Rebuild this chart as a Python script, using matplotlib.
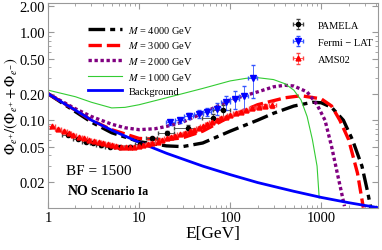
import numpy as np
import matplotlib
matplotlib.use("Agg")
import matplotlib.pyplot as plt
from matplotlib.ticker import FixedLocator, NullFormatter, LogLocator

plt.rcParams['font.family'] = ['Liberation Serif', 'DejaVu Serif']
plt.rcParams['mathtext.fontset'] = 'stix'

# model curves (E in GeV, positron fraction)
e_bg = [1, 1.5, 2, 3, 5, 7, 10, 20, 50, 100, 200, 500, 1000, 2000, 3000, 4200]
f_bg = [0.2, 0.155, 0.13, 0.1, 0.077, 0.066, 0.056, 0.042, 0.03, 0.024,
        0.0195, 0.0155, 0.0132, 0.0115, 0.0107, 0.0101]

e_4000 = [1, 2, 3, 5, 10, 20, 30, 50, 100, 200, 300, 500, 800, 1000, 1300,
          1750, 2200, 2800, 3200, 3500]
f_4000 = [0.2, 0.125, 0.095, 0.072, 0.057, 0.051, 0.05, 0.055, 0.075, 0.1,
          0.12, 0.145, 0.16, 0.158, 0.14, 0.1, 0.06, 0.03, 0.016, 0.0101]

e_3000 = [1, 2, 3, 5, 10, 20, 30, 50, 100, 200, 400, 600, 1000, 1300, 1600,
          2000, 2500, 2900]
f_3000 = [0.2, 0.13, 0.1, 0.078, 0.062, 0.06, 0.063, 0.075, 0.11, 0.15, 0.18,
          0.19, 0.175, 0.145, 0.1, 0.06, 0.025, 0.0101]

e_2000 = [1, 2, 3, 5, 7, 10, 15, 20, 30, 50, 100, 200, 300, 400, 500, 700,
          900, 1100, 1300, 1500, 1800]
f_2000 = [0.2, 0.135, 0.11, 0.09, 0.082, 0.078, 0.08, 0.085, 0.095, 0.12, 0.17,
          0.21, 0.24, 0.25, 0.245, 0.21, 0.15, 0.1, 0.05, 0.025, 0.0105]

e_1000 = [1, 2, 3, 5, 7, 10, 20, 50, 100, 150, 200, 300, 400, 500, 600, 700,
          800, 900, 950]
f_1000 = [0.22, 0.185, 0.16, 0.138, 0.14, 0.15, 0.18, 0.23, 0.28, 0.3, 0.305,
          0.29, 0.26, 0.22, 0.17, 0.11, 0.06, 0.03, 0.013]

# experimental data
e_pam = [1.64, 2.13, 2.64, 3.11, 3.79, 4.77, 6.16, 7.96, 10.3, 13.9, 20.2,
         34.4, 64.0, 82.6]
f_pam = [0.068, 0.061, 0.057, 0.055, 0.052, 0.050, 0.049, 0.050, 0.053, 0.062,
         0.072, 0.082, 0.105, 0.13]
xe_pam = [0.2, 0.25, 0.25, 0.25, 0.4, 0.5, 0.7, 0.9, 1.3, 2.0, 4.0, 10, 15, 18]
ye_pam = [0.002, 0.002, 0.002, 0.002, 0.002, 0.002, 0.002, 0.002, 0.002,
          0.003, 0.004, 0.006, 0.012, 0.02]

e_fermi = [22, 28, 35, 45, 56, 71, 89, 112, 141, 178]
f_fermi = [0.095, 0.1, 0.112, 0.118, 0.125, 0.135, 0.16, 0.175, 0.19, 0.3]
xe_fermi = [2.5, 3, 4, 5, 6, 8, 10, 12, 15, 20]
ye_fermi = [0.006, 0.007, 0.009, 0.011, 0.014, 0.02, 0.03, 0.04, 0.055, 0.12]

e_ams = [1.1, 1.3, 1.5, 1.7, 1.9, 2.2, 2.5, 2.8, 3.2, 3.6, 4.0, 4.5, 5.0,
         5.6, 6.3, 7.1, 7.9, 8.9, 10, 11, 12.5, 14, 16, 18, 20, 22.5, 25, 28,
         32, 36, 40, 45, 50, 56, 63, 71, 80, 89, 100, 115, 130, 150, 175,
         205, 240, 290]
f_ams = [0.085, 0.079, 0.075, 0.071, 0.068, 0.065, 0.062, 0.06, 0.058, 0.056,
         0.055, 0.053, 0.052, 0.051, 0.05, 0.05, 0.05, 0.05, 0.051, 0.052,
         0.053, 0.055, 0.057, 0.06, 0.062, 0.064, 0.066, 0.069, 0.072, 0.075,
         0.078, 0.082, 0.085, 0.09, 0.095, 0.1, 0.106, 0.11, 0.115, 0.12,
         0.125, 0.13, 0.138, 0.14, 0.145, 0.15]
xe_ams = [0.1, 0.1, 0.1, 0.1, 0.15, 0.15, 0.15, 0.2, 0.2, 0.2, 0.25, 0.25,
          0.3, 0.3, 0.4, 0.4, 0.5, 0.5, 0.6, 0.6, 0.7, 0.8, 1, 1, 1.2, 1.3,
          1.5, 1.7, 2, 2.2, 2.5, 2.8, 3, 3.5, 4, 4.5, 5, 6, 7, 8, 9, 10, 12,
          15, 17, 25]
ye_ams = [0.0015] * 30 + [0.002] * 6 + [0.003] * 4 + [0.004, 0.005, 0.006,
                                                      0.007, 0.008, 0.012]

fig = plt.figure(figsize=(3.82, 2.51), dpi=100)
ax = fig.add_axes([0.1257, 0.1673, 0.8638, 0.8167])

l1, = ax.plot(e_4000, f_4000, color='black', lw=2.4, dashes=(5, 1.5, 1.5, 1.5))
l2, = ax.plot(e_3000, f_3000, color='red', lw=2.4, dashes=(4, 1.5))
l3, = ax.plot(e_2000, f_2000, color='#800080', lw=2.4, dashes=(1, 0.8))
l4, = ax.plot(e_1000, f_1000, color='#33cc33', lw=0.8)
l5, = ax.plot(e_bg, f_bg, color='blue', lw=2)

p1 = ax.errorbar(e_pam, f_pam, xerr=xe_pam, yerr=ye_pam, fmt='o', ms=3,
                 color='black', ecolor='#444444', elinewidth=0.6, capsize=1.5)
p2 = ax.errorbar(e_fermi, f_fermi, xerr=xe_fermi, yerr=ye_fermi, fmt='v', ms=4,
                 color='blue', ecolor='#3355ff', elinewidth=0.6, capsize=1.5)
p3 = ax.errorbar(e_ams, f_ams, xerr=xe_ams, yerr=ye_ams, fmt='^', ms=3.5,
                 color='red', ecolor='#ff4444', elinewidth=0.6, capsize=1.2)

ax.set_xscale('log')
ax.set_yscale('log')
ax.set_xlim(1, 4200)
ax.set_ylim(0.01, 2.16)

yt = [0.02, 0.05, 0.1, 0.2, 0.5, 1.0, 2.0]
ax.yaxis.set_major_locator(FixedLocator(yt))
ax.set_yticklabels(['0.02', '0.05', '0.10', '0.20', '0.50', '1.00', '2.00'])
ax.yaxis.set_minor_locator(LogLocator(base=10, subs=np.arange(1, 10)))
ax.yaxis.set_minor_formatter(NullFormatter())
ax.set_xticks([1, 10, 100, 1000])
ax.set_xticklabels(['1', '10', '100', '1000'])
ax.xaxis.set_minor_formatter(NullFormatter())

ax.tick_params(which='both', direction='in', top=True, right=True,
               colors='#999999', labelcolor='black', labelsize=10.5, pad=2)
ax.tick_params(which='major', length=4)
ax.tick_params(which='minor', length=2)
for s in ax.spines.values():
    s.set_color('#999999')

ax.set_xlabel('E[GeV]', fontsize=12.5, labelpad=1)
ax.set_ylabel(r'$\Phi_{e^{+}}/(\Phi_{e^{+}}+\Phi_{e^{-}})$', fontsize=10.5,
              labelpad=0)

ax.text(0.055, 0.165, 'BF = 1500', transform=ax.transAxes, fontsize=11)
ax.text(0.06, 0.07, 'NO', transform=ax.transAxes, fontsize=10,
        fontweight='bold')
ax.text(0.13, 0.07, 'Scenario Ia', transform=ax.transAxes, fontsize=8.5,
        fontweight='bold')

leg1 = ax.legend([l1, l2, l3, l4, l5],
                 [r'$M$ = 4000 GeV', r'$M$ = 3000 GeV', r'$M$ = 2000 GeV',
                  r'$M$ = 1000 GeV', 'Background'],
                 loc='upper left', bbox_to_anchor=(0.105, 0.925), frameon=False,
                 fontsize=7.5, handlelength=3.3, handletextpad=0.6,
                 labelspacing=0.45, borderpad=0)
ax.add_artist(leg1)
ax.legend([p1, p2, p3], ['PAMELA', 'Fermi \u2212 LAT', 'AMS02'],
          loc='upper left', bbox_to_anchor=(0.71, 0.94), frameon=False,
          fontsize=7.5, handlelength=2.0, handletextpad=0.9,
          labelspacing=0.75, borderpad=0)

fig.savefig('out.png', dpi=100)
